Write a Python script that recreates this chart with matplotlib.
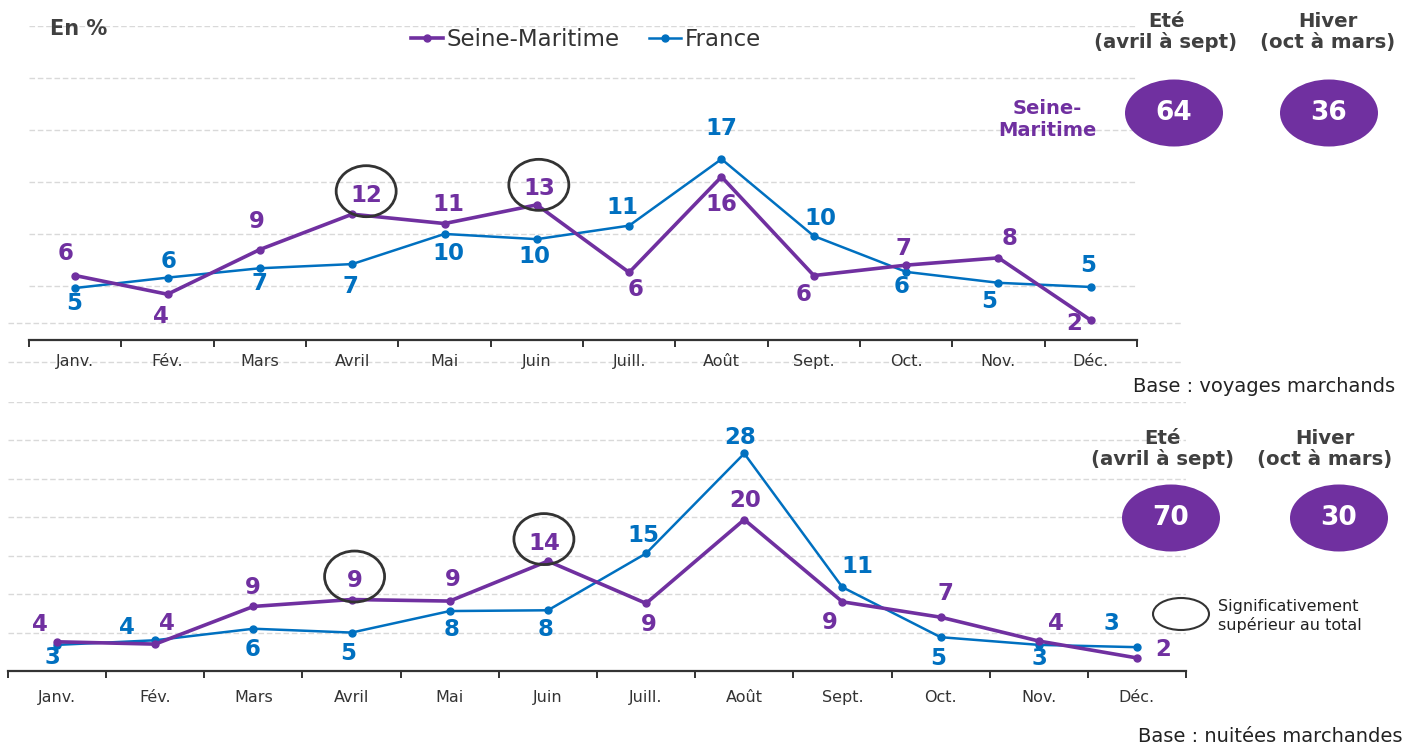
import matplotlib
matplotlib.use("Agg")
import matplotlib.pyplot as plt
from matplotlib.patches import Ellipse
from matplotlib.lines import Line2D

# ---------------- data ----------------
months = ["Janv.", "Fév.", "Mars", "Avril", "Mai", "Juin", "Juill.", "Août",
          "Sept.", "Oct.", "Nov.", "Déc."]
series_names = ["Seine-Maritime", "France"]

# Top chart: voyages marchands (%)
voy_seine = [6.0, 4.2, 8.5, 11.9, 11.0, 12.8, 6.3, 15.5, 6.0, 7.0, 7.7, 1.7]
voy_france = [4.8, 5.8, 6.7, 7.1, 10.0, 9.5, 10.8, 17.2, 9.8, 6.35, 5.3, 4.9]
voy_seine_lbl = ["6", "4", "9", "12", "11", "13", "6", "16", "6", "7", "8", "2"]
voy_france_lbl = ["5", "6", "7", "7", "10", "10", "11", "17", "10", "6", "5", "5"]
voy_signif = [3, 5]          # months significantly higher (Avril, Juin)
voy_summer, voy_winter = "64", "36"

# Bottom chart: nuitées marchandes (%)
nui_seine = [3.8, 3.5, 8.4, 9.3, 9.1, 14.3, 8.8, 19.7, 9.0, 7.0, 3.9, 1.7]
nui_france = [3.4, 4.0, 5.5, 5.0, 7.8, 7.9, 15.3, 28.3, 10.9, 4.4, 3.4, 3.1]
nui_seine_lbl = ["4", "4", "9", "9", "9", "14", "9", "20", "9", "7", "4", "2"]
nui_france_lbl = ["3", "4", "6", "5", "8", "8", "15", "28", "11", "5", "3", "3"]
nui_signif = [3, 5]
nui_summer, nui_winter = "70", "30"

# ---------------- label placement (pixel offsets, dy up) ----------------
voy_seine_off = [(-10, 22), (-7, -22), (-3, 28), (14, 19), (4, 19), (2, 16),
                 (6, -17), (0, -28), (-10, -19), (-3, 17), (11, 19), (-17, -3)]
voy_france_off = [(-1, -15), (1, 16), (0, -15), (-2, -22), (4, -20), (-2, -17),
                  (-7, 18), (0, 31), (7, 18), (-5, -15), (-9, -19), (-3, 21)]
nui_seine_off = [(-17, 17), (12, 21), (-1, 19), (3, 19), (3, 22), (-4, 18),
                 (3, -21), (1, 19), (-13, -21), (5, 24), (17, 18), (26, 8)]
nui_france_off = [(-5, -13), (-28, 13), (-1, -21), (-3, -21), (2, -18), (-2, -19),
                  (-3, 18), (-4, 16), (15, 21), (-2, -21), (1, -14), (-25, 24)]

PURPLE = "#7030A0"
BLUE = "#0070C0"
DARK = "#404040"
GRID = "#d9d9d9"

W, H = 1421, 746
fig = plt.figure(figsize=(W / 100, H / 100), dpi=100)
plt.rcParams["font.family"] = ["DejaVu Sans"]


def fx(px):
    return px / W


def fy(py):
    return 1 - py / H


def make_axes(left, right, top, bottom, ymin, ymax, pad):
    ax = fig.add_axes([fx(left), fy(bottom), (right - left) / W, (bottom - top) / H])
    ax.set_xlim(-0.5, 11.5)
    ax.set_ylim(ymin, ymax)
    for s in ["left", "right", "top"]:
        ax.spines[s].set_visible(False)
    ax.spines["bottom"].set_color("#333333")
    ax.spines["bottom"].set_linewidth(1.6)
    ax.set_yticks(range(5, int(ymax) + 1, 5))
    ax.yaxis.grid(True, color=GRID, linestyle=(0, (4, 2)), linewidth=1)
    ax.tick_params(axis="y", left=False, labelleft=False)
    ax.set_xticks(range(12))
    ax.set_xticklabels(months, fontsize=11.5, color="#333333")
    ax.tick_params(axis="x", which="major", length=0, pad=pad)
    ax.set_xticks([i - 0.5 for i in range(13)], minor=True)
    ax.tick_params(axis="x", which="minor", length=5, width=1.4, color="#333333")
    ax.set_axisbelow(True)
    ax.patch.set_alpha(0)
    return ax


def draw(ax, seine, france, s_lbl, f_lbl, s_off, f_off, signif):
    x = list(range(12))
    ax.plot(x, france, color=BLUE, lw=1.8, marker="o", ms=5, zorder=3)
    ax.plot(x, seine, color=PURPLE, lw=2.6, marker="o", ms=5, zorder=4)
    for i in x:
        ax.annotate(s_lbl[i], (i, seine[i]), xytext=(s_off[i][0] * 0.72, s_off[i][1] * 0.72),
                    textcoords="offset points", ha="center", va="center",
                    fontsize=16.5, fontweight="bold", color=PURPLE, zorder=5)
        ax.annotate(f_lbl[i], (i, france[i]), xytext=(f_off[i][0] * 0.72, f_off[i][1] * 0.72),
                    textcoords="offset points", ha="center", va="center",
                    fontsize=16.5, fontweight="bold", color=BLUE, zorder=5)
    for i in signif:
        dx, dy = ax.transData.transform((i, seine[i]))
        cx = dx + s_off[i][0]
        cy = dy + s_off[i][1] + 4
        fxy = fig.transFigure.inverted().transform((cx, cy))
        fig.add_artist(Ellipse(fxy, 60 / W, 51 / H, transform=fig.transFigure,
                               fill=False, edgecolor="#333333", lw=2, zorder=6))


# Top panel
ax1 = make_axes(29, 1137, 26, 340, -0.2, 30, 10)
draw(ax1, voy_seine, voy_france, voy_seine_lbl, voy_france_lbl,
     voy_seine_off, voy_france_off, voy_signif)
# Bottom panel
ax2 = make_axes(8, 1186, 402, 671, 0, 35, 14)
draw(ax2, nui_seine, nui_france, nui_seine_lbl, nui_france_lbl,
     nui_seine_off, nui_france_off, nui_signif)

# extra dashed separator lines in top panel
for yy in (323, 362):
    fig.add_artist(Line2D([fx(8), fx(1183)], [fy(yy), fy(yy)], color=GRID,
                          linestyle=(0, (4, 2)), lw=1, zorder=0))

# Legend
handles = [Line2D([], [], color=PURPLE, lw=2.6, marker="o", ms=5),
           Line2D([], [], color=BLUE, lw=1.8, marker="o", ms=5)]
fig.legend(handles, series_names, loc="center", bbox_to_anchor=(fx(586), fy(40)),
           ncol=2, frameon=False, fontsize=16.5, handlelength=1.4,
           handletextpad=0.15, columnspacing=1.3, labelcolor="#333333")

fig.text(fx(50), fy(29), "En %", fontsize=15, fontweight="bold", color=DARK,
         ha="left", va="center")


def season_block(y_head, y_ell, hx_s, hx_w, ex_s, ex_w, v_s, v_w):
    fig.text(fx(hx_s), fy(y_head), "Eté\n(avril à sept)", fontsize=14.2, fontweight="bold",
             color=DARK, ha="center", va="center", linespacing=1.1)
    fig.text(fx(hx_w), fy(y_head), "Hiver\n(oct à mars)", fontsize=14.2, fontweight="bold",
             color=DARK, ha="center", va="center", linespacing=1.1)
    for cx, v in ((ex_s, v_s), (ex_w, v_w)):
        fig.add_artist(Ellipse((fx(cx), fy(y_ell)), 98 / W, 67 / H,
                               transform=fig.transFigure, facecolor=PURPLE, edgecolor="none"))
        fig.text(fx(cx), fy(y_ell), v, fontsize=19, fontweight="bold", color="white",
                 ha="center", va="center")


season_block(32, 113, 1166, 1328, 1174, 1329, voy_summer, voy_winter)
season_block(449, 518, 1163, 1325, 1171, 1339, nui_summer, nui_winter)

fig.text(fx(1047), fy(119), "Seine-\nMaritime", fontsize=14, fontweight="bold",
         color=PURPLE, ha="center", va="center", linespacing=1.2)

fig.text(fx(1395), fy(386), "Base : voyages marchands", fontsize=14, color="#222222",
         ha="right", va="center")
fig.text(fx(1403), fy(737), "Base : nuitées marchandes", fontsize=14, color="#222222",
         ha="right", va="center")

# significance key
fig.add_artist(Ellipse((fx(1181), fy(614)), 56 / W, 32 / H, transform=fig.transFigure,
                       fill=False, edgecolor="#333333", lw=1.5))
fig.text(fx(1218), fy(616), "Significativement\nsupérieur au total", fontsize=11.5,
         color="#222222", ha="left", va="center", linespacing=1.2)

fig.savefig("out.png", dpi=100)
